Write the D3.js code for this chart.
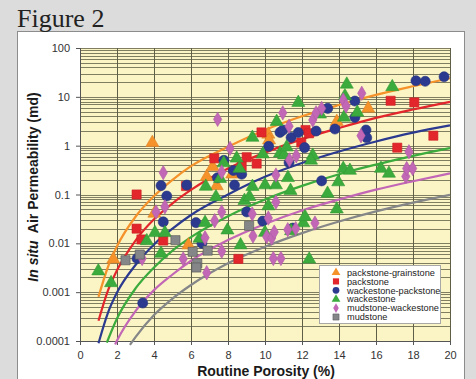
<!DOCTYPE html>
<html>
<head>
<meta charset="utf-8">
<script src="https://cdn.jsdelivr.net/npm/d3@7"></script>
<style>
  html, body { margin: 0; padding: 0; background: #dcdcdc; }
  svg { display: block; }
</style>
</head>
<body>
<svg id="chart" width="476" height="379"></svg>
<script>
// porosity (%) vs in situ permeability (md), one array per lithology
const packstoneGrainstone = [
  [1.80, 0.0047], [3.91, 1.15], [4.02, 0.041], [5.86, 0.0092], [6.85, 0.23], [7.17, 0.37],
  [7.39, 0.15], [8.23, 0.26], [10.18, 1.7], [10.22, 1.3], [13.88, 3.1], [15.58, 5.8]
];
const packstone = [
  [3.06, 0.10], [3.06, 0.020], [3.32, 0.012], [4.50, 0.0114], [5.73, 0.149], [7.26, 0.55],
  [8.56, 0.0048], [8.74, 0.38], [9.01, 0.58], [9.55, 0.43], [9.81, 1.87], [11.96, 1.16],
  [12.19, 2.09], [12.38, 1.79], [16.79, 8.3], [18.07, 7.7], [19.10, 1.6], [17.15, 0.91]
];
const wackestonePackstone = [
  [3.08, 0.0049], [3.39, 0.0006], [4.38, 0.152], [4.50, 0.0275], [4.69, 0.093], [5.77, 0.156],
  [6.27, 0.0265], [6.59, 0.010], [7.43, 0.22], [7.78, 0.50], [8.29, 0.31], [8.74, 0.26],
  [8.35, 0.156], [9.01, 0.044], [9.88, 0.0285], [10.20, 0.97], [10.81, 1.87], [10.97, 2.09],
  [11.41, 1.47], [11.80, 1.86], [12.14, 0.91], [12.76, 1.99], [11.30, 0.45], [11.50, 0.0205],
  [13.06, 0.19], [13.39, 5.8], [13.78, 2.19], [14.86, 8.2], [14.86, 3.8], [15.46, 2.09],
  [15.50, 1.45], [18.16, 21.4], [18.66, 20.8], [19.68, 25.8]
];
const wackestone = [
  [0.99, 0.0027], [1.68, 0.00155], [3.61, 0.0112], [4.05, 0.0164], [4.38, 0.0062], [4.59, 0.0164],
  [6.46, 0.0126], [6.76, 0.0265], [6.80, 0.146], [7.35, 0.089], [7.57, 0.21], [7.77, 0.44],
  [8.47, 0.55], [8.62, 0.34], [8.68, 0.0092], [7.97, 0.0186], [8.89, 0.075], [9.16, 0.090],
  [9.32, 0.145], [9.32, 1.47], [9.88, 0.67], [10.0, 0.156], [10.59, 0.156], [10.18, 0.058],
  [10.63, 3.1], [10.81, 0.70], [11.03, 0.64], [11.17, 0.93], [11.24, 0.22], [11.38, 0.12],
  [11.41, 0.018], [10.0, 0.0166], [11.80, 7.6], [12.07, 0.026], [12.16, 0.035], [12.39, 0.0047],
  [12.58, 0.63], [12.49, 0.50], [12.97, 4.4], [13.38, 0.105], [13.88, 0.050], [13.96, 0.18],
  [14.23, 0.34], [14.59, 0.31], [14.27, 3.8], [14.32, 10.4], [14.42, 18], [14.99, 4.8],
  [16.27, 0.34], [16.70, 0.27], [16.88, 16]
];
const mudstoneWackestone = [
  [3.36, 0.0049], [4.11, 0.044], [4.50, 0.28], [4.59, 0.056], [5.58, 0.0048], [6.76, 0.0130],
  [6.85, 0.0025], [7.28, 0.029], [7.44, 3.46], [7.66, 0.29], [7.66, 0.044], [7.66, 0.0069],
  [8.11, 0.88], [9.35, 0.0141], [9.31, 0.040], [10.09, 0.0137], [10.36, 0.0128], [10.18, 0.033],
  [10.45, 0.0049], [10.86, 0.0049], [10.50, 0.017], [10.59, 0.25], [10.59, 0.070], [10.96, 4.7],
  [11.23, 0.019], [11.66, 0.020], [11.30, 2.5], [11.32, 0.51], [11.69, 0.62], [12.58, 3.35],
  [12.70, 0.026], [12.76, 4.7], [13.06, 5.8], [14.23, 8.6], [14.38, 6.5], [15.23, 11.8],
  [15.19, 1.6], [17.61, 0.235], [17.66, 0.34], [17.98, 0.34], [17.78, 0.75]
];
const mudstone = [
  [2.46, 0.0045], [3.23, 0.0059], [5.16, 0.0116], [6.09, 0.0067], [6.90, 0.0071],
  [6.34, 0.0039], [6.29, 0.0032], [9.14, 0.0228]
];

// trend curves
const curvePackGrain = [
  [1, 0.0008], [1.5, 0.0032], [2, 0.0087], [3, 0.035], [4, 0.093], [5, 0.2], [6, 0.38],
  [8, 0.95], [10, 2.1], [12, 4.0], [14, 6.8], [16, 11], [18, 16.5], [20, 24]
];
const curvePack = [
  [1, 0.00026], [1.5, 0.00105], [2, 0.0028], [3, 0.0114], [4, 0.031], [5, 0.066], [6, 0.124],
  [8, 0.34], [10, 0.72], [12, 1.36], [14, 2.3], [16, 3.7], [18, 5.5], [20, 7.9]
];
const curveWackPack = [
  [1, 0.00009], [1.5, 0.00037], [2, 0.00098], [3, 0.0036], [4, 0.0095], [5, 0.020], [6, 0.038],
  [8, 0.10], [10, 0.23], [12, 0.44], [14, 0.76], [16, 1.22], [18, 1.85], [20, 2.6]
];
const curveWack = [
  [1.45, 0.000093], [2, 0.00029], [3, 0.00119], [4, 0.0032], [5, 0.0071], [6, 0.0134],
  [8, 0.036], [10, 0.079], [12, 0.15], [14, 0.26], [16, 0.41], [18, 0.62], [20, 0.89]
];
const curveMudWack = [
  [1.9, 0.000085], [2, 0.000102], [3, 0.00041], [4, 0.0011], [5, 0.0023], [6, 0.0044],
  [8, 0.0117], [10, 0.025], [12, 0.047], [14, 0.079], [16, 0.126], [18, 0.187], [20, 0.27]
];
const curveMud = [
  [2.7, 0.000083], [3, 0.00012], [4, 0.00034], [5, 0.00074], [6, 0.0014], [8, 0.0039],
  [10, 0.0085], [12, 0.0162], [14, 0.028], [16, 0.045], [18, 0.068], [20, 0.098]
];

const legendLabels = ['packstone-grainstone', 'packstone', 'wackestone-packstone',
  'wackestone', 'mudstone-wackestone', 'mudstone'];
const xTickValues = [0, 2, 4, 6, 8, 10, 12, 14, 16, 18, 20];
const yTickValues = [0.0001, 0.001, 0.01, 0.1, 1, 10, 100];
const yTickLabels = ['0.0001', '0.001', '0.01', '0.1', '1', '10', '100'];

const series = [
  { name: legendLabels[0], pts: packstoneGrainstone, curve: curvePackGrain, color: '#f5922a', sym: d3.symbolTriangle, size: 74 },
  { name: legendLabels[1], pts: packstone, curve: curvePack, color: '#e2262b', sym: d3.symbolSquare, size: 84 },
  { name: legendLabels[2], pts: wackestonePackstone, curve: curveWackPack, color: '#2b3a8f', sym: d3.symbolCircle, size: 80 },
  { name: legendLabels[3], pts: wackestone, curve: curveWack, color: '#3aab3c', sym: d3.symbolTriangle, size: 74 },
  { name: legendLabels[4], pts: mudstoneWackestone, curve: curveMudWack, color: '#c266b6', sym: d3.symbolDiamond, size: 60 },
  { name: legendLabels[5], pts: mudstone, curve: curveMud, color: '#848688', sym: d3.symbolSquare, size: 84 }
];

const sans = 'Liberation Sans, Arial, sans-serif';
const svg = d3.select('#chart');

// frame
svg.append('rect').attr('width', 476).attr('height', 379).attr('fill', '#dcdcdc');
svg.append('rect')
  .attr('x', 17.5).attr('y', 31.5).attr('width', 447).attr('height', 360)
  .attr('fill', '#ffffff').attr('stroke', '#8c8c8c');
svg.append('text')
  .attr('x', 17).attr('y', 27)
  .attr('font-family', 'Liberation Serif, Times New Roman, serif')
  .attr('font-size', 26).attr('fill', '#222')
  .text('Figure 2');

// scale
const x = d3.scaleLinear().domain([0, 20]).range([80, 450]);
const y = d3.scaleLog().domain([0.0001, 100]).range([341, 48]);

svg.append('rect')
  .attr('x', x(0)).attr('y', y(100))
  .attr('width', x(20) - x(0)).attr('height', y(0.0001) - y(100))
  .attr('fill', '#fbf5c6');

// grid
svg.append('g').selectAll('line')
  .data(y.ticks())
  .join('line')
  .attr('x1', x(0)).attr('x2', x(20))
  .attr('y1', d => Math.round(y(d)) + 0.5).attr('y2', d => Math.round(y(d)) + 0.5)
  .attr('stroke', '#5f5f48').attr('stroke-width', 0.8);

svg.append('g').selectAll('line')
  .data(xTickValues)
  .join('line')
  .attr('x1', d => Math.round(x(d)) + 0.5).attr('x2', d => Math.round(x(d)) + 0.5)
  .attr('y1', y(100)).attr('y2', y(0.0001))
  .attr('stroke', '#5f5f48').attr('stroke-width', 1);

// assi
const xAxis = svg.append('g')
  .attr('transform', `translate(0,${y(0.0001)})`)
  .call(d3.axisBottom(x).tickValues(xTickValues).tickSize(4).tickPadding(6).tickSizeOuter(0));
const yAxis = svg.append('g')
  .attr('transform', `translate(${x(0)},0)`)
  .call(d3.axisLeft(y).tickValues(yTickValues).tickSize(4).tickPadding(6).tickSizeOuter(0)
    .tickFormat((d, i) => yTickLabels[i]));
[xAxis, yAxis].forEach(a => {
  a.selectAll('text').attr('font-family', sans).attr('font-size', 11).attr('fill', '#333');
  a.selectAll('line, path').attr('stroke', '#555');
});

svg.append('text')
  .attr('x', 266).attr('y', 375.5)
  .attr('text-anchor', 'middle')
  .attr('font-family', sans).attr('font-size', 14).attr('font-weight', 'bold').attr('fill', '#1a1a1a')
  .text('Routine Porosity (%)');

const yTitle = svg.append('text')
  .attr('transform', 'translate(38,187) rotate(-90)')
  .attr('text-anchor', 'middle')
  .attr('font-family', sans).attr('font-size', 14).attr('font-weight', 'bold').attr('fill', '#1a1a1a');
yTitle.append('tspan').attr('font-style', 'italic').text('In situ');
yTitle.append('tspan').text('\u00a0 Air Permeability (md)');

// curves
const line = d3.line()
  .x(d => x(d[0]))
  .y(d => y(d[1]))
  .curve(d3.curveMonotoneX);

svg.append('g').selectAll('path')
  .data(series)
  .join('path')
  .attr('d', d => line(d.curve))
  .attr('fill', 'none')
  .attr('stroke', d => d.color)
  .attr('stroke-width', 2.2);

// points
series.forEach(s => {
  svg.append('g').selectAll('path')
    .data(s.pts)
    .join('path')
    .attr('transform', d => `translate(${x(d[0])},${y(d[1])})`)
    .attr('d', d3.symbol(s.sym, s.size))
    .attr('fill', s.color)
    .attr('stroke', s.name === 'mudstone' ? '#555' : d3.color(s.color).darker(0.3))
    .attr('stroke-width', 0.6);
});

// legend
const legend = svg.append('g').attr('transform', 'translate(319,265)');
legend.append('rect')
  .attr('x', 0.5).attr('y', 0.5).attr('width', 121).attr('height', 58)
  .attr('fill', '#ffffff').attr('stroke', '#a8a8a8');
legend.selectAll('.legend-item')
  .data(series)
  .join('g')
  .attr('class', 'legend-item')
  .attr('transform', (d, i) => `translate(0,${7.5 + i * 8.9})`)
  .each(function(d) {
    const g = d3.select(this);
    g.append('path')
      .attr('transform', 'translate(17,0)')
      .attr('d', d3.symbol(d.sym, d.size * 0.45))
      .attr('fill', d.color)
      .attr('stroke', d.name === 'mudstone' ? '#555' : 'none')
      .attr('stroke-width', 0.5);
    g.append('text')
      .attr('x', 28).attr('y', 0).attr('dy', '0.35em')
      .attr('font-family', sans).attr('font-size', 9.2).attr('fill', '#222')
      .text(d.name);
  });
</script>
</body>
</html>
